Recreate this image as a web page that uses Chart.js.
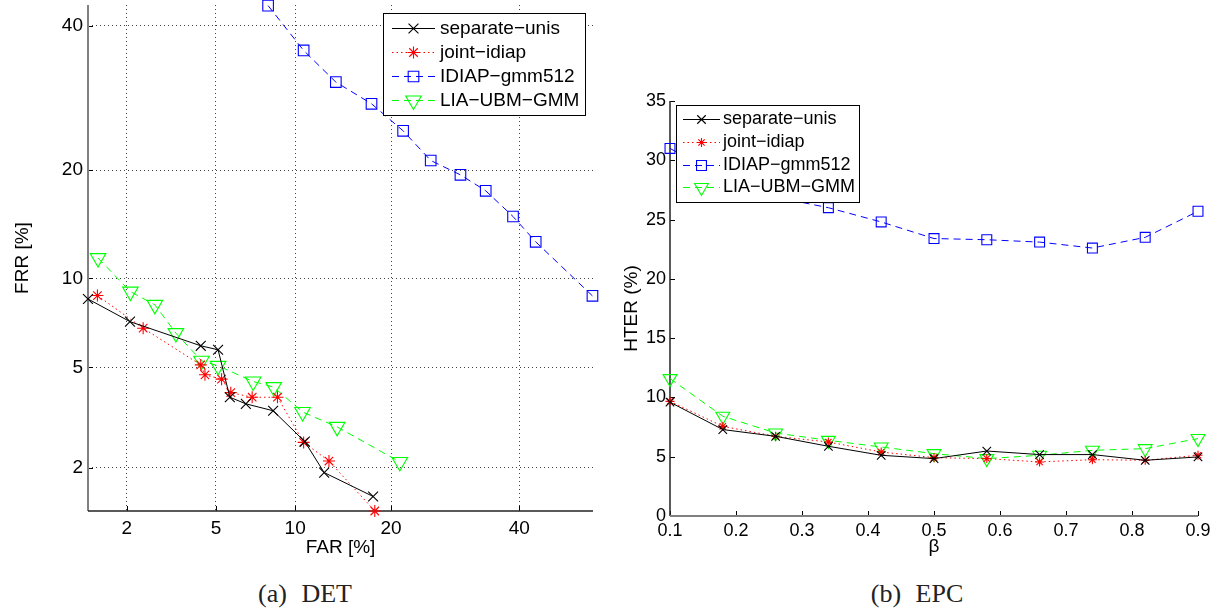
<!DOCTYPE html>
<html>
<head>
<meta charset="utf-8">
<script src="https://cdn.jsdelivr.net/npm/chart.js@4.4.0/dist/chart.umd.min.js"></script>
<style>
  body { margin: 0; background: #fff; }
  #wrap { position: relative; width: 1217px; height: 612px; overflow: hidden; }
  canvas { position: absolute; top: 0; }
  #det { left: 0; }
  #epc { left: 610px; }
  .cap { position: absolute; top: 581px; font-family: 'Liberation Serif', 'DejaVu Serif', serif;
         font-size: 26px; line-height: 26px; color: #222; word-spacing: 8px; white-space: nowrap;
         transform: translateX(-50%); }
</style>
</head>
<body>
<div id="wrap">
  <canvas id="det" width="610" height="565"></canvas>
  <canvas id="epc" width="607" height="565"></canvas>
  <div class="cap" style="left:305px">(a) DET</div>
  <div class="cap" style="left:917px">(b) EPC</div>
</div>
<script>
// series names
var names = ['separate\u2212unis', 'joint\u2212idiap', 'IDIAP\u2212gmm512', 'LIA\u2212UBM\u2212GMM'];

// DET: FAR / FRR in percent
var detTicks = [2, 5, 10, 20, 40];
var sepFar = [1.28, 2.07, 4.32, 5.10, 5.69, 6.58, 8.34, 10.8, 12.54, 17.78];
var sepFrr = [8.6, 7.24, 5.98, 5.79, 3.87, 3.65, 3.43, 2.58, 1.91, 1.50];
var jointFar = [1.43, 2.39, 4.32, 4.50, 5.27, 5.74, 6.96, 8.65, 10.7, 13.0, 17.98];
var jointFrr = [8.82, 6.88, 5.11, 4.70, 4.53, 4.03, 3.87, 3.87, 2.56, 2.14, 1.29];
var idiapFar = [7.99, 10.7, 13.68, 17.59, 21.59, 25.48, 30.05, 34.20, 38.91, 42.95, 53.3];
var idiapFrr = [43.2, 36.17, 31.47, 28.40, 24.79, 21.13, 19.48, 17.74, 15.15, 12.86, 8.80];
var liaFar = [1.44, 2.08, 2.71, 3.37, 4.35, 5.10, 7.02, 8.38, 10.61, 13.81, 21.15];
var liaFrr = [11.52, 9.08, 8.23, 6.62, 5.29, 5.07, 4.44, 4.23, 3.39, 2.96, 2.12];

// EPC: HTER (%) against beta
var beta = [0.1, 0.18, 0.26, 0.34, 0.42, 0.5, 0.58, 0.66, 0.74, 0.82, 0.9];
var sepHter = [9.6, 7.29, 6.72, 5.88, 5.12, 4.84, 5.48, 5.18, 5.18, 4.70, 4.98];
var jointHter = [9.67, 7.56, 6.72, 6.24, 5.40, 4.92, 4.84, 4.56, 4.75, 4.70, 5.12];
var idiapHter = [31.0, 28.6, 26.9, 26.0, 24.8, 23.4, 23.3, 23.1, 22.6, 23.5, 25.7];
var liaHter = [11.59, 8.41, 7.0, 6.38, 5.82, 5.26, 4.84, 5.12, 5.54, 5.68, 6.53];

// inverse normal cdf (Acklam), for the normal deviate axes of the DET plot
function probit(p) {
    var a = [-39.69683028665376, 220.9460984245205, -275.9285104469687, 138.3577518672690, -30.66479806614716, 2.506628277459239];
    var b = [-54.47609879822406, 161.5858368580409, -155.6989798598866, 66.80131188771972, -13.28068155288572];
    var c = [-0.007784894002430293, -0.3223964580411365, -2.400758277161838, -2.549732539343734, 4.374664141464968, 2.938163982698783];
    var d = [0.007784695709041462, 0.3224671290700398, 2.445134137142996, 3.754408661907416];
    var q, r;
    if (p < 0.02425) {
        q = Math.sqrt(-2 * Math.log(p));
        return (((((c[0]*q+c[1])*q+c[2])*q+c[3])*q+c[4])*q+c[5]) / ((((d[0]*q+d[1])*q+d[2])*q+d[3])*q+1);
    }
    if (p <= 1 - 0.02425) {
        q = p - 0.5; r = q * q;
        return (((((a[0]*r+a[1])*r+a[2])*r+a[3])*r+a[4])*r+a[5])*q / (((((b[0]*r+b[1])*r+b[2])*r+b[3])*r+b[4])*r+1);
    }
    q = Math.sqrt(-2 * Math.log(1 - p));
    return -(((((c[0]*q+c[1])*q+c[2])*q+c[3])*q+c[4])*q+c[5]) / ((((d[0]*q+d[1])*q+d[2])*q+d[3])*q+1);
}

function detPoints(far, frr) {
    return far.map(function (v, i) { return {x: probit(v / 100), y: probit(frr[i] / 100)}; });
}
function epcPoints(ys) {
    return beta.map(function (v, i) { return {x: v, y: ys[i]}; });
}

Chart.defaults.font.family = "'Liberation Sans', Arial, sans-serif";
Chart.defaults.color = '#000';

var styles = [
    {color: '#000000', dash: [], point: 'crossRot', rot: 0},
    {color: '#ff0000', dash: [1.5, 3], point: 'star', rot: 0},
    {color: '#0000ff', dash: [7, 5], point: 'rect', rot: 0},
    {color: '#00ff00', dash: [7, 5], point: 'triangle', rot: 180}
];

function makeSets(points, radii) {
    return points.map(function (pts, i) {
        var s = styles[i];
        return {
            label: names[i], data: pts,
            borderColor: s.color, borderWidth: 1, borderDash: s.dash,
            pointStyle: s.point, pointRotation: s.rot, pointRadius: radii[i],
            pointBorderColor: s.color, pointBorderWidth: 1.1,
            pointBackgroundColor: 'rgba(0,0,0,0)', tension: 0, clip: false
        };
    });
}

function fallbackPoint(ctx, o, x, y) {
    var r = o.radius;
    ctx.beginPath();
    if (o.pointStyle === 'rect') {
        var s = r * Math.SQRT1_2; ctx.rect(x - s, y - s, 2 * s, 2 * s);
    } else if (o.pointStyle === 'triangle') {
        var ang = (o.rotation || 0) * Math.PI / 180;
        for (var k = 0; k < 3; k++) {
            var t = ang + k * 2 * Math.PI / 3;
            ctx[k ? 'lineTo' : 'moveTo'](x + Math.sin(t) * r, y - Math.cos(t) * r);
        }
        ctx.closePath();
    } else {
        var arms = o.pointStyle === 'star' ? [0, 45, 90, 135] : [45, 135];
        arms.forEach(function (dg) {
            var t = dg * Math.PI / 180;
            ctx.moveTo(x - Math.cos(t) * r, y - Math.sin(t) * r);
            ctx.lineTo(x + Math.cos(t) * r, y + Math.sin(t) * r);
        });
    }
    ctx.stroke();
}

// left/bottom axis lines and inward ticks, drawn under the data
var matlabAxes = {
    id: 'matlabAxes',
    beforeDatasetsDraw: function (chart, args, opts) {
        var ctx = chart.ctx, a = chart.chartArea, sx = chart.scales.x, sy = chart.scales.y;
        ctx.save();
        ctx.strokeStyle = '#000';
        ctx.lineWidth = 1;
        sx.ticks.forEach(function (t) {
            var px = Math.round(sx.getPixelForValue(t.value)) + 0.5;
            ctx.beginPath(); ctx.moveTo(px, a.bottom); ctx.lineTo(px, a.bottom - opts.tickLen); ctx.stroke();
        });
        sy.ticks.forEach(function (t) {
            var py = Math.round(sy.getPixelForValue(t.value)) + 0.5;
            ctx.beginPath(); ctx.moveTo(a.left, py); ctx.lineTo(a.left + opts.tickLen, py); ctx.stroke();
        });
        ctx.strokeStyle = opts.yColor; ctx.lineWidth = opts.yWidth;
        ctx.beginPath(); ctx.moveTo(a.left, a.top); ctx.lineTo(a.left, a.bottom); ctx.stroke();
        ctx.strokeStyle = opts.xColor; ctx.lineWidth = opts.xWidth;
        ctx.beginPath(); ctx.moveTo(a.left, a.bottom); ctx.lineTo(a.right, a.bottom); ctx.stroke();
        ctx.restore();
    }
};

// boxed legend with a line sample and marker in the middle
var matlabLegend = {
    id: 'matlabLegend',
    afterDatasetsDraw: function (chart, args, opts) {
        var ctx = chart.ctx, a = chart.chartArea, sets = chart.data.datasets;
        var drawPoint = (Chart.helpers && Chart.helpers.drawPoint) || fallbackPoint;
        ctx.save();
        ctx.font = opts.font;
        var textW = Math.max.apply(null, sets.map(function (d) { return ctx.measureText(d.label).width; }));
        var w = Math.round(opts.padLeft + opts.sample + opts.gap + textW + opts.padRight);
        var h = Math.round(opts.row * sets.length + opts.padY * 2);
        var x0 = opts.alignRight ? a.right - opts.inset - w : a.left + opts.inset;
        var y0 = Math.round(opts.top);
        x0 = Math.round(x0);
        ctx.fillStyle = '#fff';
        ctx.fillRect(x0, y0, w, h);
        ctx.strokeStyle = '#000'; ctx.lineWidth = 1;
        ctx.strokeRect(x0 + 0.5, y0 + 0.5, w, h);
        sets.forEach(function (ds, i) {
            var cy = Math.round(y0 + opts.padY + opts.row * (i + 0.5)) + 0.5;
            var lx = x0 + opts.padLeft;
            ctx.setLineDash(ds.borderDash);
            ctx.strokeStyle = ds.borderColor; ctx.lineWidth = 1;
            ctx.beginPath(); ctx.moveTo(lx, cy); ctx.lineTo(lx + opts.sample, cy); ctx.stroke();
            ctx.setLineDash([]);
            ctx.fillStyle = 'rgba(0,0,0,0)';
            ctx.lineWidth = 1.1;
            drawPoint(ctx, {pointStyle: ds.pointStyle, rotation: ds.pointRotation, radius: ds.pointRadius, borderWidth: 1},
                      lx + opts.sample / 2, cy);
            ctx.fillStyle = '#000';
            ctx.textBaseline = 'middle';
            ctx.fillText(ds.label, lx + opts.sample + opts.gap, cy);
        });
        ctx.restore();
    }
};

var detMin = probit(1.28 / 100), detMax = probit(53.4 / 100);
var detYMin = probit(1.29 / 100), detYMax = probit(43.3 / 100);

function detAxis(title, min, max, pad, titlePad) {
    return {
        type: 'linear', min: min, max: max,
        afterBuildTicks: function (s) {
            s.ticks = detTicks.map(function (v) { return {value: probit(v / 100)}; });
        },
        ticks: {
            autoSkip: false, maxRotation: 0, padding: pad,
            font: {size: 19},
            callback: function (v, i) { return String(detTicks[i]); }
        },
        grid: {color: 'rgba(0,0,0,0.75)', lineWidth: 1, drawTicks: false},
        border: {display: false, dash: [1, 3]},
        title: {display: true, text: title, font: {size: 19}, padding: titlePad}
    };
}

var detX = detAxis('FAR [%]', detMin, detMax, 6, {top: 0, bottom: 6});
detX.afterFit = function (s) { s.height = 54; s.paddingLeft = 0; s.paddingRight = 0; };
var detY = detAxis('FRR [%]', detYMin, detYMax, 5, {top: 11, bottom: 0});
detY.afterFit = function (s) { s.width = 88; s.paddingTop = 0; s.paddingBottom = 0; };

new Chart(document.getElementById('det'), {
    type: 'line',
    data: {
        datasets: makeSets([
            detPoints(sepFar, sepFrr), detPoints(jointFar, jointFrr),
            detPoints(idiapFar, idiapFrr), detPoints(liaFar, liaFrr)
        ], [7, 6, 7.5, 9])
    },
    options: {
        responsive: false, animation: false, devicePixelRatio: 1, events: [],
        layout: {autoPadding: false, padding: {left: 0, top: 5, right: 17, bottom: 0}},
        scales: {x: detX, y: detY},
        plugins: {
            legend: {display: false}, tooltip: {enabled: false},
            matlabAxes: {tickLen: 5, yColor: '#808080', yWidth: 2, xColor: '#222', xWidth: 1.5},
            matlabLegend: {font: "19px 'Liberation Sans', Arial, sans-serif", alignRight: true, inset: 8, top: 13,
                           padLeft: 9, sample: 43, gap: 5, padRight: 6, row: 24, padY: 3}
        }
    },
    plugins: [matlabAxes, matlabLegend]
});

new Chart(document.getElementById('epc'), {
    type: 'line',
    data: {
        datasets: makeSets([
            epcPoints(sepHter), epcPoints(jointHter), epcPoints(idiapHter), epcPoints(liaHter)
        ], [6, 4.5, 7, 8])
    },
    options: {
        responsive: false, animation: false, devicePixelRatio: 1, events: [],
        layout: {autoPadding: false, padding: {left: 0, top: 101, right: 19, bottom: 0}},
        scales: {
            x: {
                type: 'linear', min: 0.1, max: 0.9,
                ticks: {stepSize: 0.1, padding: 4, maxRotation: 0, font: {size: 18},
                        callback: function (v) { return v.toFixed(1); }},
                grid: {drawOnChartArea: false, drawTicks: false},
                border: {display: false},
                title: {display: true, text: '\u03b2', font: {size: 19}, padding: {top: 0, bottom: 7}},
                afterFit: function (s) { s.height = 49; }
            },
            y: {
                type: 'linear', min: 0, max: 35,
                ticks: {stepSize: 5, padding: 4, font: {size: 18}},
                grid: {drawOnChartArea: false, drawTicks: false},
                border: {display: false},
                title: {display: true, text: 'HTER (%)', font: {size: 19}, padding: {top: 10, bottom: 0}},
                afterFit: function (s) { s.width = 60; }
            }
        },
        plugins: {
            legend: {display: false}, tooltip: {enabled: false},
            matlabAxes: {tickLen: 5, yColor: '#222', yWidth: 1.5, xColor: '#808080', xWidth: 2},
            matlabLegend: {font: "18px 'Liberation Sans', Arial, sans-serif", alignRight: false, inset: 6, top: 105,
                           padLeft: 7, sample: 37, gap: 3, padRight: 4, row: 22.7, padY: 3}
        }
    },
    plugins: [matlabAxes, matlabLegend]
});
</script>
</body>
</html>
